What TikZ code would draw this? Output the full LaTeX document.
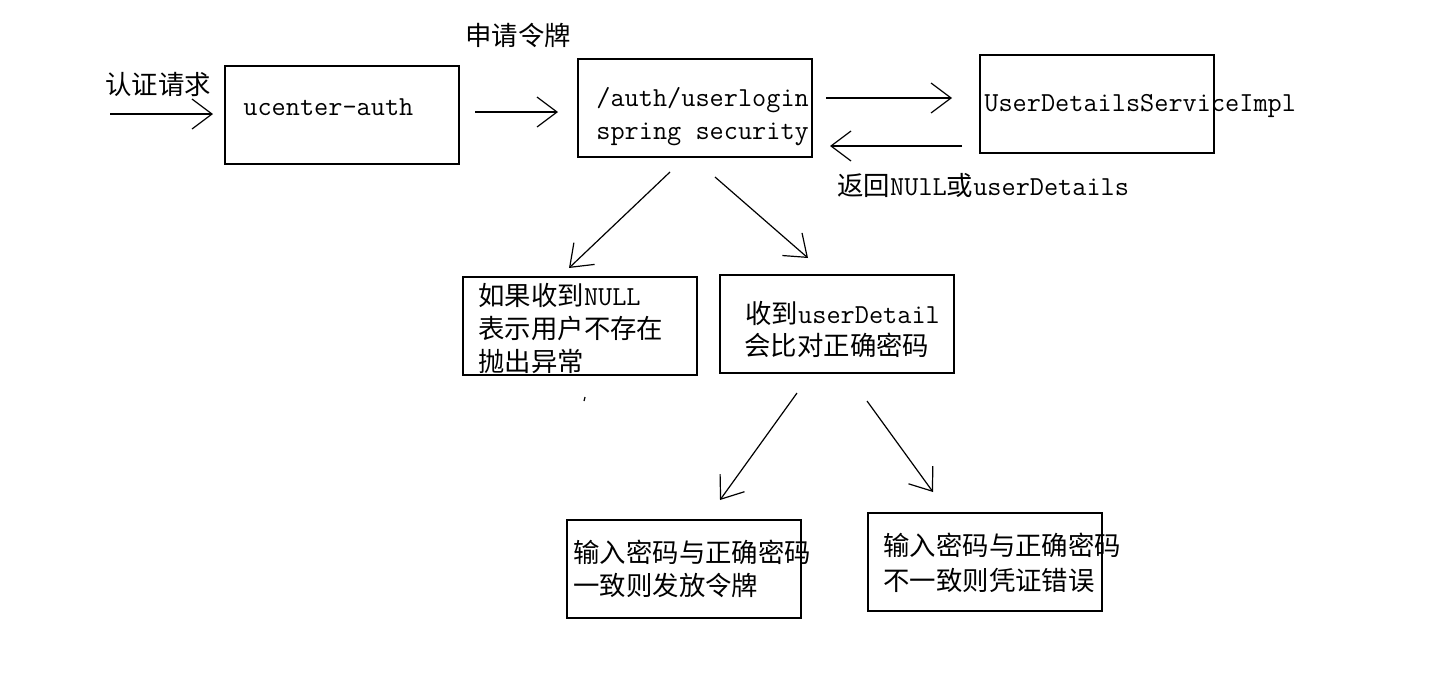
\documentclass[tikz,border=0pt]{standalone}
\usepackage{fontspec}
\newfontfamily\cjk{Noto Sans CJK SC}
\usetikzlibrary{arrows.meta}
\newcommand{\zh}{\fontsize{13.2}{16}\cjk}
\newcommand{\la}{\fontsize{13.75}{16}\ttfamily}
\tikzset{
  box/.style={draw, line width=1pt, minimum width=117pt, minimum height=49pt, anchor=north west, inner sep=0pt},
  lbl/.style={anchor=west, inner sep=0pt, text=black},
  arr/.style={line width=0.6pt, -{Straight Barb[length=10pt,width=15pt,line width=0.6pt]}}
}
\begin{document}
\begin{tikzpicture}[x=0.5pt,y=-0.5pt]
\useasboundingbox (0,0) rectangle (1439,676);
% boxes
\node[box] (auth) at (224,65) {};
\node[box] (login) at (577,58) {};
\node[box] (impl) at (979,54) {};
\node[box] (nul) at (462,276) {};
\node[box] (det) at (719,274) {};
\node[box] (ok) at (566,519) {};
\node[box] (err) at (867,512) {};
% texts
\node[lbl] (t1) at (105,84) {\zh 认证请求};
\node[lbl] (t2) at (465,35) {\zh 申请令牌};
\node[lbl] (t3) at (243,107) {\la ucenter-auth};
\node[lbl] (t4) at (596,100) {\la /auth/userlogin};
\node[lbl] (t5) at (596,134) {\la spring security};
\node[lbl] (t6) at (984,106) {\la UserDetailsServiceImpl};
\node[lbl] (t7) at (837,185) {\zh 返回\la NUlL\zh 或\la userDetails};
\node[lbl] (t8) at (478,295) {\zh 如果收到\la NULL};
\node[lbl] (t9) at (478,328) {\zh 表示用户不存在};
\node[lbl] (t10) at (478,361) {\zh 抛出异常};
\node[lbl] (t11) at (745,313) {\zh 收到\la userDetail};
\node[lbl] (t12) at (744,345) {\zh 会比对正确密码};
\node[lbl] (t13) at (573,552) {\zh 输入密码与正确密码};
\node[lbl] (t14) at (573,585) {\zh 一致则发放令牌};
\node[lbl] (t15) at (883,545) {\zh 输入密码与正确密码};
\node[lbl] (t16) at (883,580) {\zh 不一致则凭证错误};
% arrow endpoints
\coordinate (a1s) at (110,114); \coordinate (a1e) at (213,114);
\coordinate (a2s) at (475,112); \coordinate (a2e) at (558,112);
\coordinate (a3s) at (826,98);  \coordinate (a3e) at (952,98);
\coordinate (a4s) at (962,146); \coordinate (a4e) at (830,146);
\coordinate (a5s) at (670,172); \coordinate (a5e) at (569,268);
\coordinate (a6s) at (715,177); \coordinate (a6e) at (808,258);
\coordinate (a7s) at (797,393); \coordinate (a7e) at (720,500);
\coordinate (a8s) at (867,401); \coordinate (a8e) at (933,492);
\draw[arr] (a1s) -- (a1e);
\draw[arr] (a2s) -- (a2e);
\draw[arr] (a3s) -- (a3e);
\draw[arr] (a4s) -- (a4e);
\draw[arr] (a5s) -- (a5e);
\draw[arr] (a6s) -- (a6e);
\draw[arr] (a7s) -- (a7e);
\draw[arr] (a8s) -- (a8e);
% small stray mark
\coordinate (m1) at (585,397); \coordinate (m2) at (584,401);
\draw[line width=0.6pt] (m1) -- (m2);
\end{tikzpicture}
\end{document}
